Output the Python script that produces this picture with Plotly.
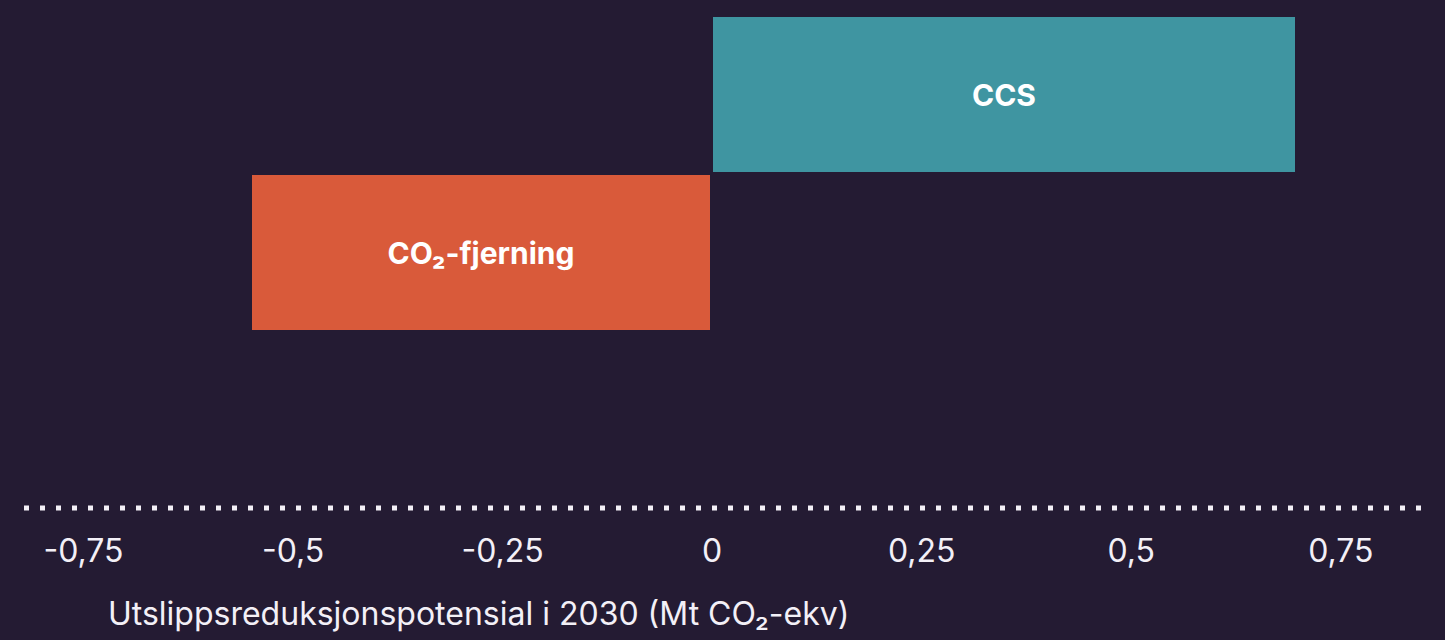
import plotly.graph_objects as go

categories = ["CCS", "CO₂-fjerning"]
values = [0.698, -0.55]
colors = ["#3f95a1", "#d95a3a"]
tick_values = [-0.75, -0.5, -0.25, 0, 0.25, 0.5, 0.75]
tick_labels = ["-0,75", "-0,5", "-0,25", "0", "0,25", "0,5", "0,75"]
x_title = "Utslippsreduksjonspotensial i 2030 (Mt CO₂-ekv)"

BG = "#241b33"
TXT = "#f3f0f7"

fig = go.Figure()
fig.add_trace(go.Bar(
    y=list(range(len(categories))),
    x=values,
    orientation="h",
    width=1.0,
    marker=dict(color=colors, line=dict(color=BG, width=3)),
    text=[f"<b>{c}</b>" for c in categories],
    textposition="inside",
    insidetextanchor="middle",
    textfont=dict(family="Inter, Roboto, sans-serif", size=30, color="#ffffff"),
    hoverinfo="skip",
))

fig.update_layout(
    width=1445, height=640,
    margin=dict(l=24, r=17, t=16, b=132),
    paper_bgcolor=BG, plot_bgcolor=BG,
    showlegend=False,
    bargap=0,
    font=dict(family="Inter, Roboto, sans-serif", color=TXT),
)
fig.update_xaxes(
    range=[-0.821, 0.854],
    tickvals=tick_values, ticktext=tick_labels,
    tickfont=dict(size=32, color=TXT),
    showgrid=False, zeroline=False, showline=False,
    ticks="", ticklabelstandoff=21,
)
fig.update_yaxes(
    range=[2.61, -0.5],
    showticklabels=False, showgrid=False, zeroline=False, showline=False,
)
fig.add_shape(
    type="line", xref="paper", yref="paper",
    x0=0.0, x1=1.0, y0=0, y1=0,
    line=dict(color=TXT, width=5, dash="5px,11px"),
)
fig.add_annotation(
    text=x_title, xref="paper", yref="paper",
    x=(106 - 24) / 1404, y=-0.214, xanchor="left", yanchor="middle",
    showarrow=False, font=dict(size=32, color=TXT),
)
fig.write_html(
    "out.html",
    config={"displayModeBar": False},
    post_script="document.body.style.margin='0';document.body.style.background='%s';" % BG,
)
